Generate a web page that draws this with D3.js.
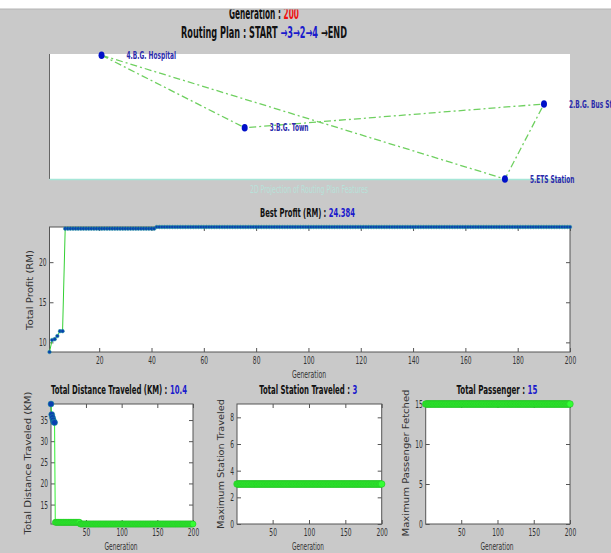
<!DOCTYPE html>
<html>
<head>
<meta charset="utf-8">
<script src="https://cdn.jsdelivr.net/npm/d3@7"></script>
<style>
  body { margin: 0; background: #c9c9c9; }
  svg { display: block; }
  .tick text { font-family: "Liberation Sans Narrow", "DejaVu Sans Condensed", sans-serif; font-size: 11px; fill: #333; }
  .tick line { stroke: #555; }
</style>
</head>
<body>
<svg id="fig"></svg>
<script>
// routing plan stations (map units)
const stationNames = ["4.B.G. Hospital", "3.B.G. Town", "2.B.G. Bus Station", "5.ETS Station"];
const stationX = [1.0, 3.75, 9.5, 8.75];
const stationY = [9.9, 4.1, 6.0, 0.0];
const routeOrder = [0, 1, 2, 3, 0];

// best-so-far records: generation where the value changed, and the value
const generations = d3.range(1, 201);
const profitGen = [1, 2, 3, 4, 5, 6, 7, 42];
const profitVal = [8.8, 10.3, 10.4, 10.8, 11.4, 11.4, 24.18, 24.384];
const distGen = [1, 2, 3, 4, 5, 6, 7, 42];
const distVal = [38.8, 36.3, 35.6, 35.0, 34.5, 34.4, 10.8, 10.4];
const stationGen = [1];
const stationVal = [3];
const passGen = [1];
const passVal = [15];

const profitTicksX = [20, 40, 60, 80, 100, 120, 140, 160, 180, 200];
const profitTicksY = [10, 15, 20];
const smallTicksX = [50, 100, 150, 200];
const distTicksY = [15, 20, 25, 30, 35];
const stationTicksY = [0, 2, 4, 6, 8];
const passTicksY = [0, 5, 10, 15];

const W = 611, H = 553;
const narrow = '"Liberation Sans Narrow", "DejaVu Sans Condensed", sans-serif';

// hold each recorded value until the next change
function series(gens, vals) {
  return generations.map(g => {
    let v = vals[0];
    gens.forEach((cg, i) => { if (cg <= g) v = vals[i]; });
    return {gen: g, val: v};
  });
}

// squeeze text horizontally (narrow matlab font)
function squeeze(sel, k) {
  sel.each(function () {
    const L = this.getComputedTextLength();
    d3.select(this).attr("textLength", L * k).attr("lengthAdjust", "spacingAndGlyphs");
  });
}

const svg = d3.select("#fig").attr("width", W).attr("height", H);

// title made of coloured pieces, scaled to a total width and centred on x
function title(x, y, size, parts, len) {
  const g = svg.append("g");
  let cx = 0;
  parts.forEach(p => {
    const t = g.append("text")
      .attr("x", cx).attr("y", 0)
      .attr("font-family", narrow)
      .attr("font-weight", "bold")
      .attr("font-size", size)
      .attr("fill", p[1])
      .attr("xml:space", "preserve")
      .text(p[0]);
    cx += t.node().getComputedTextLength();
  });
  const k = len / cx;
  g.attr("transform", `translate(${x - len / 2},${y}) scale(${k},1)`);
}

function ylabel(x, y, txt, len) {
  svg.append("text")
    .attr("transform", `translate(${x},${y}) rotate(-90)`)
    .attr("text-anchor", "middle")
    .attr("font-family", "DejaVu Sans, sans-serif")
    .attr("font-size", 9.5)
    .attr("fill", "#333")
    .attr("textLength", len).attr("lengthAdjust", "spacingAndGlyphs")
    .text(txt);
}

function xlabel(x, y, len) {
  svg.append("text")
    .attr("x", x).attr("y", y)
    .attr("text-anchor", "middle")
    .attr("font-family", narrow)
    .attr("font-size", 11)
    .attr("fill", "#333")
    .attr("textLength", len).attr("lengthAdjust", "spacingAndGlyphs")
    .text("Generation");
}

// matlab style axes: white box, ticks pointing inside on all 4 sides
function axesBox(x, y, xt, yt) {
  const [l, r] = x.range(), [b, t] = y.range();
  const g = svg.append("g");
  g.append("rect").attr("x", l).attr("y", t).attr("width", r - l).attr("height", b - t).attr("fill", "#fff");
  g.append("g").attr("transform", `translate(0,${b})`)
    .call(d3.axisBottom(x).tickValues(xt).tickSize(-4).tickSizeOuter(0).tickPadding(4));
  g.append("g").attr("transform", `translate(0,${t})`)
    .call(d3.axisTop(x).tickValues(xt).tickSize(-4).tickSizeOuter(0).tickFormat(""));
  g.append("g").attr("transform", `translate(${l},0)`)
    .call(d3.axisLeft(y).tickValues(yt).tickSize(-4).tickSizeOuter(0).tickPadding(3));
  g.append("g").attr("transform", `translate(${r},0)`)
    .call(d3.axisRight(y).tickValues(yt).tickSize(-4).tickSizeOuter(0).tickFormat(""));
  g.selectAll(".domain").remove();
  g.selectAll(".tick text").call(squeeze, 0.6);
  g.append("rect").attr("x", l).attr("y", t).attr("width", r - l).attr("height", b - t)
    .attr("fill", "none").attr("stroke", "#555");
  return g;
}

function plotSeries(data, x, y, lineCol, rad, fill, edge) {
  svg.append("path").datum(data)
    .attr("fill", "none").attr("stroke", lineCol).attr("stroke-width", 1)
    .attr("d", d3.line().x(d => x(d.gen)).y(d => y(d.val)));
  svg.append("g").selectAll("circle")
    .data(data)
    .join("circle")
    .attr("cx", d => x(d.gen)).attr("cy", d => y(d.val))
    .attr("r", rad)
    .attr("fill", (d, i) => fill(i))
    .attr("stroke", (d, i) => edge(i)).attr("stroke-width", 0.5);
}

// headings (top one is partly hidden by the white strip)
title(264, 19, 15, [["Generation : ", "#111"], ["200", "#ee1111"]], 70);
title(264, 38, 15, [["Routing Plan : START ", "#111"], ["\u21923\u21922\u21924", "#1a1acc"], [" \u2192END", "#111"]], 166);
svg.append("rect").attr("x", 0).attr("y", 0).attr("width", W).attr("height", 9).attr("fill", "#fff");
svg.append("line").attr("x1", 0).attr("x2", W).attr("y1", 9).attr("y2", 9).attr("stroke", "#b4b4b4");

// routing map
const mapX = d3.scaleLinear().domain([0, 10]).range([49.5, 570]);
const mapY = d3.scaleLinear().domain([0, 10]).range([179, 54]);
svg.append("rect").attr("x", 49.5).attr("y", 54).attr("width", 520.5).attr("height", 125).attr("fill", "#fff");
svg.append("line").attr("x1", 49.5).attr("x2", 49.5).attr("y1", 54).attr("y2", 179).attr("stroke", "#666");
svg.append("line").attr("x1", 49.5).attr("x2", 570).attr("y1", 179.5).attr("y2", 179.5).attr("stroke", "#a6e6d8").attr("stroke-width", 1.5);
svg.append("path")
  .datum(routeOrder)
  .attr("fill", "none").attr("stroke", "#6fd060").attr("stroke-width", 1.3)
  .attr("stroke-dasharray", "7,3,2,3")
  .attr("d", d3.line().x(i => mapX(stationX[i])).y(i => mapY(stationY[i])));
svg.append("g").selectAll("ellipse")
  .data(stationNames)
  .join("ellipse")
  .attr("cx", (d, i) => mapX(stationX[i])).attr("cy", (d, i) => mapY(stationY[i]))
  .attr("rx", 3).attr("ry", 3.8).attr("fill", "#0010c8");
svg.append("g").selectAll("text")
  .data(stationNames)
  .join("text")
  .attr("x", (d, i) => mapX(stationX[i]) + 25).attr("y", (d, i) => mapY(stationY[i]) + 3.5)
  .attr("font-family", narrow).attr("font-weight", "bold").attr("font-size", 10.5)
  .attr("fill", "#2b2bab")
  .text(d => d)
  .call(squeeze, 0.62);
svg.append("text")
  .attr("x", 309).attr("y", 193).attr("text-anchor", "middle")
  .attr("font-family", narrow).attr("font-size", 10).attr("fill", "#b8e2da")
  .attr("textLength", 118).attr("lengthAdjust", "spacingAndGlyphs")
  .text("2D Projection of Routing Plan Features");

// best profit
const profit = series(profitGen, profitVal);
const px = d3.scaleLinear().domain([1, 200]).range([49.5, 570]);
const py = d3.scaleLinear().domain(d3.extent(profit, d => d.val)).range([352, 227]);
axesBox(px, py, profitTicksX, profitTicksY);
plotSeries(profit, px, py, "#33d033", 1.8, () => "#0a3fb0", () => "#1e9a9a");
title(307.5, 217, 12, [["Best Profit (RM) : ", "#111"], ["24.384", "#1a1acc"]], 95);
ylabel(33, 290, "Total Profit (RM)", 80);
xlabel(309, 378, 34);

// total distance
const dist = series(distGen, distVal);
const dx = d3.scaleLinear().domain([1, 200]).range([51, 193]);
const dy = d3.scaleLinear().domain(d3.extent(dist, d => d.val)).range([524, 404]);
axesBox(dx, dy, smallTicksX, distTicksY);
plotSeries(dist, dx, dy, "#33ee33", 3, i => i < 6 ? "#0a3fb0" : "#33ff33", i => i < 6 ? "#1e9a9a" : "#22b822");
title(119, 394, 13, [["Total Distance Traveled (KM) : ", "#111"], ["10.4", "#1a1acc"]], 136);
ylabel(31, 463, "Total Distance Traveled (KM)", 143);
xlabel(121, 550, 33);

// total station
const station = series(stationGen, stationVal);
const sx = d3.scaleLinear().domain([1, 200]).range([237, 381.7]);
const sy = d3.scaleLinear().domain([0, 9]).range([524, 404]);
axesBox(sx, sy, smallTicksX, stationTicksY);
plotSeries(station, sx, sy, "#33ee33", 3.3, () => "#33ff33", () => "#22b822");
title(308.3, 394, 13, [["Total Station Traveled : ", "#111"], ["3", "#1a1acc"]], 98);
ylabel(224, 464, "Maximum Station Traveled", 130);
xlabel(308, 550, 32);

// total passenger
const pass = series(passGen, passVal);
const qx = d3.scaleLinear().domain([1, 200]).range([425.7, 570]);
const qy = d3.scaleLinear().domain([0, 15]).range([524, 404]);
axesBox(qx, qy, smallTicksX, passTicksY);
plotSeries(pass, qx, qy, "#33ee33", 3.3, () => "#33ff33", () => "#22b822");
title(497, 394, 13, [["Total Passenger : ", "#111"], ["15", "#1a1acc"]], 81);
ylabel(409, 463, "Maximum Passenger Fetched", 147);
xlabel(497, 550, 33);
</script>
</body>
</html>
